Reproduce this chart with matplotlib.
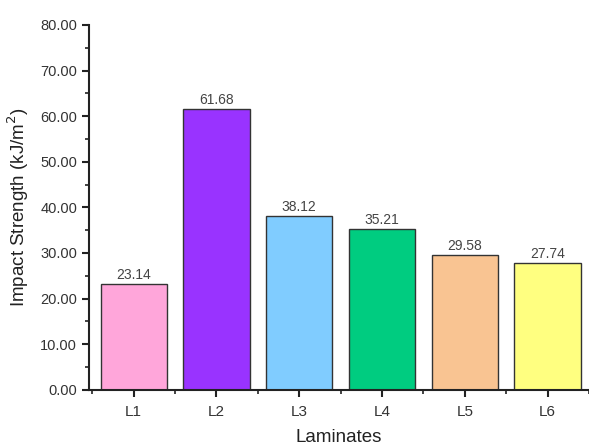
import matplotlib
matplotlib.use("Agg")
import matplotlib.pyplot as plt
from matplotlib.ticker import MultipleLocator, FixedLocator

plt.rcParams['font.family'] = ['Liberation Sans', 'DejaVu Sans']

categories = ["L1", "L2", "L3", "L4", "L5", "L6"]
values = [23.14, 61.68, 38.12, 35.21, 29.58, 27.74]
colors = ["#FFA6DA", "#9933FF", "#80CCFF", "#00CC80", "#F9C492", "#FFFF80"]

fig = plt.figure(figsize=(5.89, 4.46), dpi=100)
ax = fig.add_axes([0.151, 0.126, 0.849, 0.818])

x = list(range(len(categories)))
bars = ax.bar(x, values, width=0.8, color=colors, edgecolor="#333333", linewidth=1.0)
for xi, v in zip(x, values):
    ax.text(xi, v + 0.4, f"{v:.2f}", ha="center", va="bottom", fontsize=10, color="#444444")

ax.set_xlim(-0.54, 5.5)
ax.set_ylim(0, 80)
ax.set_xticks(x)
ax.set_xticklabels(categories)
ax.xaxis.set_minor_locator(FixedLocator([i + 0.5 for i in range(-1, 6)]))
ax.yaxis.set_major_locator(MultipleLocator(10))
ax.yaxis.set_minor_locator(MultipleLocator(5))
ax.set_yticklabels([f"{t:.2f}" for t in ax.get_yticks()])

for s in ["top", "right"]:
    ax.spines[s].set_visible(False)
for s in ["left", "bottom"]:
    ax.spines[s].set_linewidth(1.5)
    ax.spines[s].set_color("#222222")

ax.tick_params(axis="both", which="major", direction="out", length=5, width=1.5, labelsize=10.5, labelcolor="#333333", color="#222222")
ax.tick_params(axis="x", which="major", pad=6, labelsize=11)
ax.tick_params(axis="both", which="minor", direction="out", length=3, width=1.2, color="#222222")

ax.set_ylabel("Impact Strength (kJ/m$^2$)", fontsize=13.5, color="#222222", labelpad=7)
ax.set_xlabel("Laminates", fontsize=13.5, color="#222222", labelpad=7)

fig.savefig("out.png", dpi=100)
